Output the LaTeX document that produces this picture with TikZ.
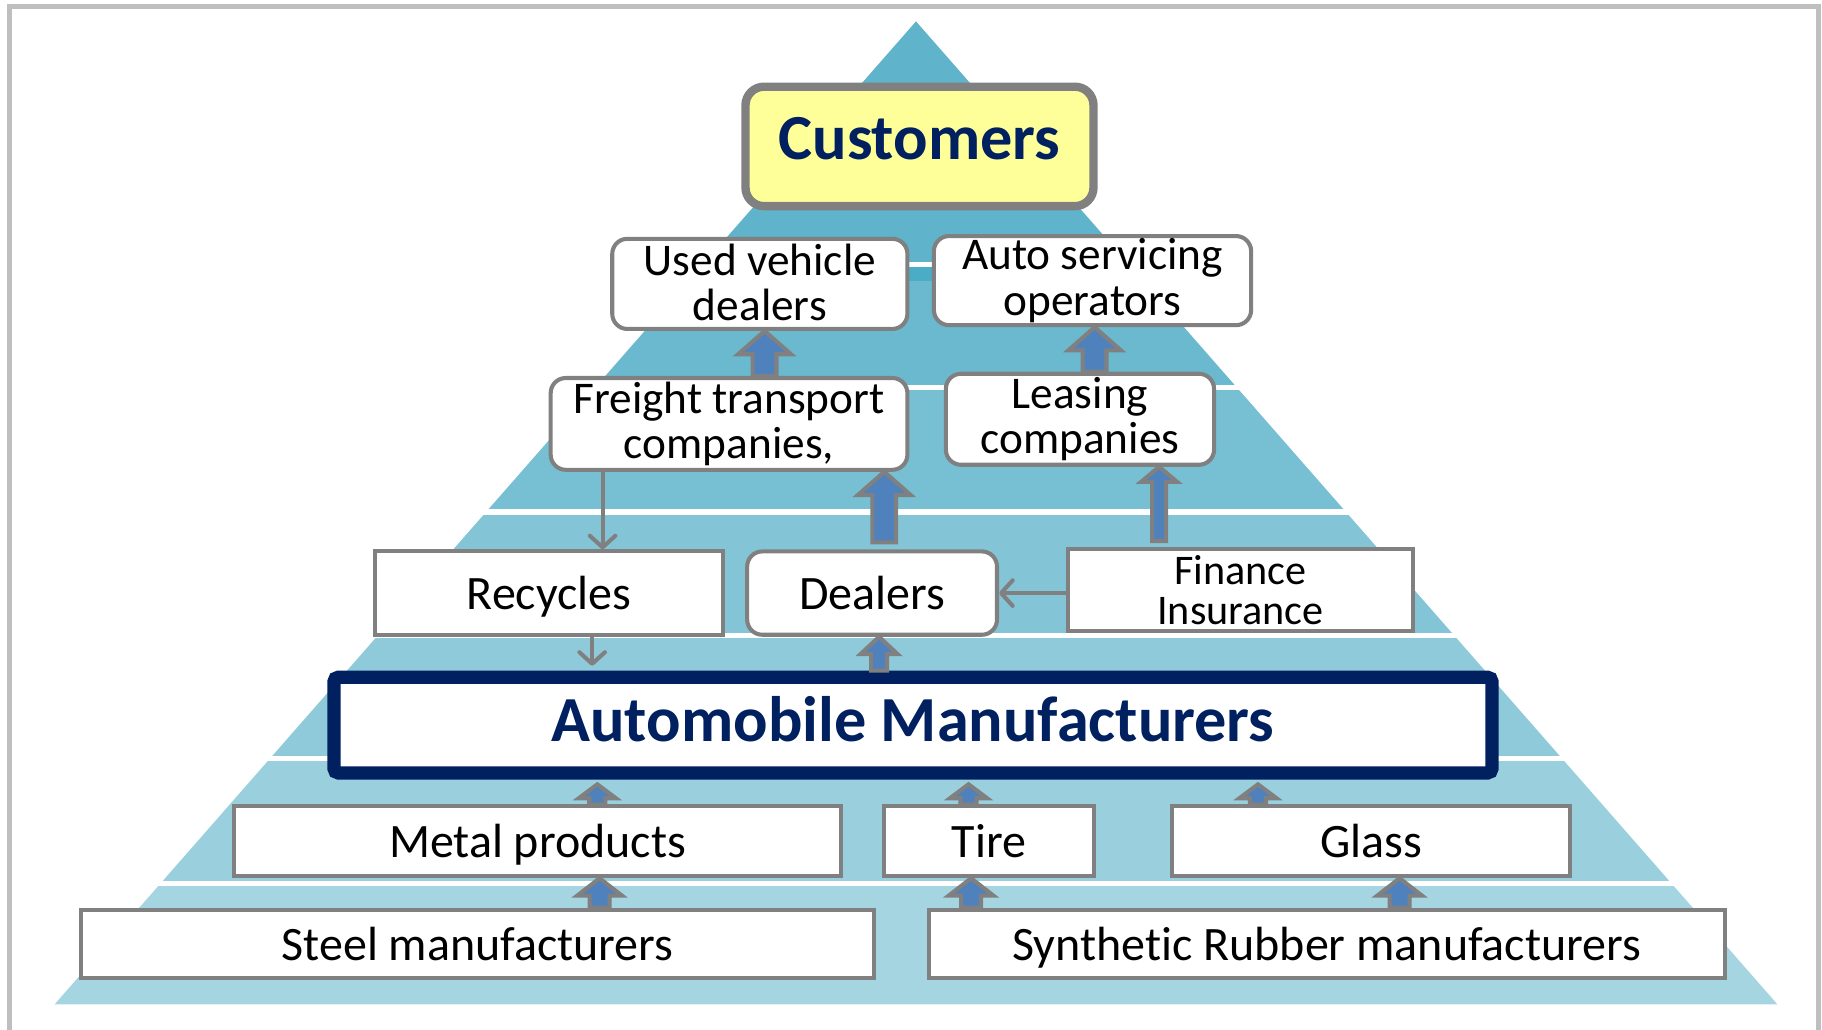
\documentclass[tikz,border=0pt]{standalone}
\usepackage{fontspec}
\setmainfont{Carlito}[Ligatures=NoCommon]
\usetikzlibrary{arrows.meta,calc}

\definecolor{navy}{HTML}{002060}
\definecolor{boxgray}{HTML}{808080}
\definecolor{framegray}{HTML}{BFBFBF}
\definecolor{arrblue}{HTML}{4F81BD}
\definecolor{custyellow}{HTML}{FFFF99}
\definecolor{layA}{HTML}{5FB3CA}
\definecolor{layAdark}{HTML}{4BACC6}
\definecolor{layB}{HTML}{6BB9CF}
\definecolor{layC}{HTML}{77BFD3}
\definecolor{layD}{HTML}{83C5D7}
\definecolor{layE}{HTML}{8ECADA}
\definecolor{layF}{HTML}{9AD0DE}
\definecolor{layG}{HTML}{A6D5E2}

\tikzset{
	plainbox/.style={draw=boxgray, line width=3.5, fill=white, inner sep=0pt, align=center,
		text depth=0pt, font=\fontsize{41.3}{41.3}\selectfont},
	twoline/.style={text depth=, font=\fontsize{39}{39}\selectfont},
	roundbox/.style={plainbox, rounded corners=13},
	titlebox/.style={text=navy, font=\bfseries\fontsize{55.3}{55.3}\selectfont},
	blockarr/.style={draw=boxgray, line width=3.5, fill=arrblue},
	thinarr/.style={draw=boxgray, line width=3.5, -{Straight Barb[length=10pt,width=22pt,round]}}
}

%% #1 x of the arrow, #2 from, #3 to, #4 half shaft, #5 half head, #6 head length
\newcommand{\blockarrow}[6]{%
	\path[blockarr] let \p1=(#2), \p2=(#3) in
		(#1pt-#4pt,\y1) -- (#1pt-#4pt,\y2-#6pt) -- (#1pt-#5pt,\y2-#6pt) -- (#1pt,\y2)
		-- (#1pt+#5pt,\y2-#6pt) -- (#1pt+#4pt,\y2-#6pt) -- (#1pt+#4pt,\y1) -- cycle;}

\begin{document}
\begin{tikzpicture}[x=1pt,y=-1pt]
	\useasboundingbox (0,0) rectangle (1568,886);
	%% frame
	\draw[framegray, line width=4.3] (8.5,886) -- (8.5,5.3) -- (1565,5.3) -- (1565,886);
	%% pyramid
	\begin{scope}
		\clip (788.3,18.4) -- (46.9,864.4) -- (1529.7,864.4) -- cycle;
		\fill[layA] (0,0) rectangle (1568,225.6);
		\fill[layAdark] (0,229.6) rectangle (1568,242);
		\fill[layB] (0,242) rectangle (1568,331.5);
		\fill[layC] (0,336) rectangle (1568,438);
		\fill[layD] (0,443) rectangle (1568,545);
		\fill[layE] (0,549) rectangle (1568,651);
		\fill[layF] (0,655) rectangle (1568,758);
		\fill[layG] (0,762.5) rectangle (1568,870);
	\end{scope}
	%% boxes
	\node[roundbox, titlebox, line width=7.2, rounded corners=16, fill=custyellow,
		minimum width=299.5pt, minimum height=102.8pt, text depth=13pt] (customers) at (791.3,126) {Customers};
	\node[roundbox, twoline, minimum width=254pt, minimum height=77.6pt] (used) at (653.9,244.3) {Used vehicle\\dealers\rule[-3pt]{0pt}{1pt}};
	\node[roundbox, twoline, minimum width=273pt, minimum height=76.7pt] (servicing) at (940.2,241.5) {Auto servicing\\operators};
	\node[roundbox, twoline, minimum width=307pt, minimum height=79pt] (freight) at (627.4,364.8) {Freight transport\\companies,};
	\node[roundbox, twoline, minimum width=230.8pt, minimum height=78.3pt] (leasing) at (929.4,360.8) {Leasing\\companies};
	\node[plainbox, minimum width=300pt, minimum height=71.7pt] (recycles) at (472.5,510.4) {Recycles};
	\node[roundbox, minimum width=215pt, minimum height=71.7pt] (dealers) at (750.5,510.4) {Dealers};
	\node[plainbox, twoline, minimum width=297.3pt, minimum height=71pt,
		font=\fontsize{36.3}{35}\selectfont] (finance) at (1067.6,507.8) {Finance\\Insurance};
	\node[plainbox, titlebox, draw=navy, line width=11.5, rounded corners=4,
		minimum width=996.6pt, minimum height=82.4pt, text depth=10pt] (automobile) at (785.7,624) {Automobile Manufacturers};
	\node[plainbox, minimum width=521.7pt, minimum height=60.1pt] (metal) at (462.6,724) {Metal products};
	\node[plainbox, minimum width=181pt, minimum height=60.1pt] (tire) at (851.2,724) {Tire};
	\node[plainbox, minimum width=342.4pt, minimum height=60.1pt] (glass) at (1179.8,724) {Glass};
	\node[plainbox, minimum width=682.5pt, minimum height=59pt] (steel) at (411,812.3) {Steel manufacturers};
	\node[plainbox, minimum width=685pt, minimum height=59pt] (rubber) at (1141.8,812.3) {Synthetic Rubber manufacturers};
	%% block arrows
	\blockarrow{658}{freight.north}{used.south}{10.25}{22.75}{20}
	\blockarrow{942}{leasing.north}{servicing.south}{10.25}{22.75}{20}
	\blockarrow{761}{[yshift=6pt]dealers.north}{freight.south}{10.25}{22.75}{20}
	\blockarrow{997.5}{[yshift=5pt]finance.north}{leasing.south}{6}{15.5}{13}
	\blockarrow{756.5}{automobile.north}{dealers.south}{6.9}{16}{15}
	\blockarrow{514}{metal.north}{[yshift=-4pt]automobile.south}{6.9}{16}{12}
	\blockarrow{833.5}{tire.north}{[yshift=-4pt]automobile.south}{6.9}{16}{12}
	\blockarrow{1082.6}{glass.north}{[yshift=-4pt]automobile.south}{6.9}{16}{12}
	\blockarrow{516}{steel.north}{metal.south}{8.6}{19.3}{15}
	\blockarrow{835.7}{rubber.north}{tire.south}{8.6}{19.3}{15}
	\blockarrow{1204.5}{rubber.north}{glass.south}{8.6}{19.3}{15}
	%% thin arrows
	\coordinate (frout) at ([xshift=-108.8pt]freight.south);
	\coordinate (recout) at ([xshift=37.1pt]recycles.south);
	\draw[thinarr] (frout) -- (frout |- recycles.north);
	\draw[thinarr] (recout) -- ([yshift=4pt]recout |- automobile.north);
	\draw[thinarr] (finance.west |- dealers.east) -- (dealers.east);
\end{tikzpicture}
\end{document}
